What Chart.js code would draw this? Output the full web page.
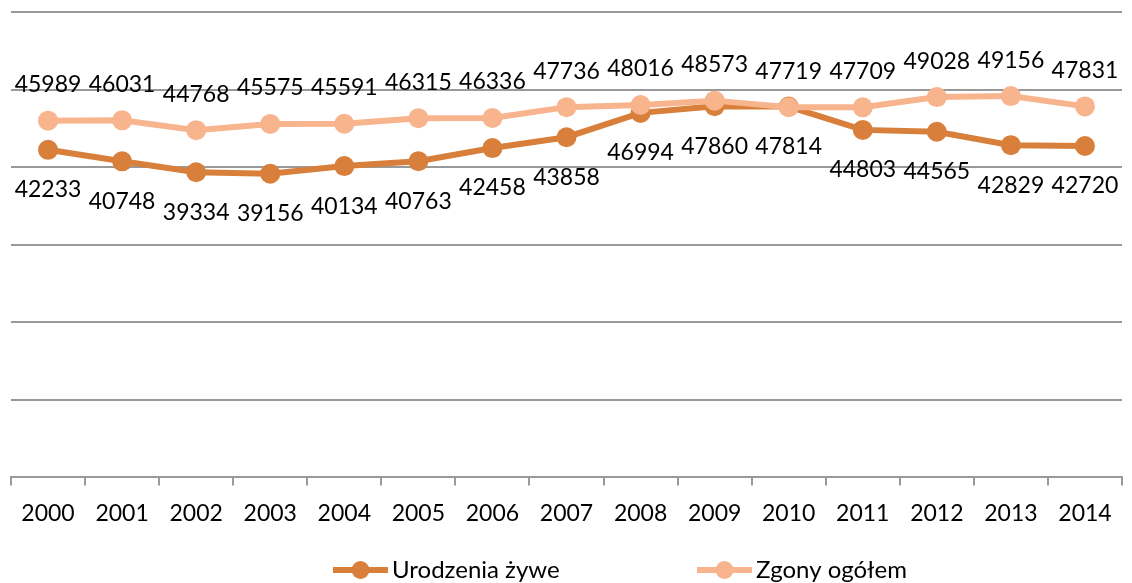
<!DOCTYPE html>
<html>
<head>
<meta charset="utf-8">
<script src="https://cdn.jsdelivr.net/npm/chart.js@4.4.1/dist/chart.umd.min.js"></script>
<style>
  html, body { margin: 0; padding: 0; background: #ffffff; }
  #c { display: block; }
</style>
</head>
<body>
<canvas id="c" width="1132" height="583"></canvas>
<script>
const categories = ['2000','2001','2002','2003','2004','2005','2006','2007','2008','2009','2010','2011','2012','2013','2014'];
const urodzenia = [42233, 40748, 39334, 39156, 40134, 40763, 42458, 43858, 46994, 47860, 47814, 44803, 44565, 42829, 42720];
const zgony = [45989, 46031, 44768, 45575, 45591, 46315, 46336, 47736, 48016, 48573, 47719, 47709, 49028, 49156, 47831];
const seriesNames = ['Urodzenia żywe', 'Zgony ogółem'];
const yMin = 0, yMax = 60000, yStep = 10000;

const DARK = '#D8803B';
const LIGHT = '#F7B48D';
const GRID = '#999999';
const FONT = 'Lato';

const pointLabelsPlugin = {
  id: 'pointLabels',
  afterDatasetsDraw(chart, args, opts) {
    const ctx = chart.ctx;
    ctx.save();
    ctx.font = opts.size + 'px ' + FONT;
    ctx.fillStyle = '#000000';
    ctx.textAlign = 'center';
    ctx.textBaseline = 'middle';
    chart.data.datasets.forEach((ds, di) => {
      const meta = chart.getDatasetMeta(di);
      const off = opts.offsets[di];
      meta.data.forEach((pt, i) => {
        ctx.fillText(String(ds.data[i]), pt.x, pt.y + off);
      });
    });
    ctx.restore();
  }
};

const customLegendPlugin = {
  id: 'customLegend',
  afterDraw(chart, args, opts) {
    const ctx = chart.ctx;
    ctx.save();
    ctx.font = opts.size + 'px ' + FONT;
    ctx.textBaseline = 'middle';
    ctx.textAlign = 'left';
    chart.data.datasets.forEach((ds, di) => {
      const x = opts.starts[di];
      const y = opts.y;
      ctx.strokeStyle = ds.borderColor;
      ctx.lineWidth = 6;
      ctx.lineCap = 'butt';
      ctx.beginPath();
      ctx.moveTo(x, y);
      ctx.lineTo(x + opts.lineLen, y);
      ctx.stroke();
      ctx.fillStyle = ds.pointBackgroundColor;
      ctx.beginPath();
      ctx.arc(x + opts.lineLen / 2, y, 9, 0, Math.PI * 2);
      ctx.fill();
      ctx.fillStyle = '#000000';
      ctx.fillText(ds.label, x + opts.lineLen + 4, y);
    });
    ctx.restore();
  }
};

function draw() {
  new Chart(document.getElementById('c'), {
    type: 'line',
    data: {
      labels: categories,
      datasets: [
        {
          label: seriesNames[0],
          data: urodzenia,
          borderColor: DARK,
          backgroundColor: DARK,
          pointBackgroundColor: DARK,
          pointBorderColor: DARK,
          borderWidth: 6,
          pointRadius: 10,
          pointBorderWidth: 0,
          pointHoverRadius: 10,
          tension: 0,
          fill: false,
          order: 1
        },
        {
          label: seriesNames[1],
          data: zgony,
          borderColor: LIGHT,
          backgroundColor: LIGHT,
          pointBackgroundColor: LIGHT,
          pointBorderColor: LIGHT,
          borderWidth: 6,
          pointRadius: 10,
          pointBorderWidth: 0,
          pointHoverRadius: 10,
          tension: 0,
          fill: false,
          order: 0
        }
      ]
    },
    options: {
      responsive: false,
      animation: false,
      devicePixelRatio: 1,
      layout: { padding: { left: 11, right: 1, top: 12, bottom: 42 } },
      scales: {
        x: {
          type: 'category',
          offset: true,
          grid: {
            offset: true,
            drawOnChartArea: false,
            drawTicks: true,
            tickLength: 8,
            color: GRID,
            lineWidth: 2
          },
          border: { display: true, color: GRID, width: 2 },
          ticks: {
            color: '#000000',
            font: { family: FONT, size: 23 },
            padding: 14,
            maxRotation: 0,
            autoSkip: false
          }
        },
        y: {
          min: yMin,
          max: yMax,
          ticks: { stepSize: yStep, display: false },
          grid: { color: GRID, lineWidth: 2, drawTicks: false },
          border: { display: false }
        }
      },
      plugins: {
        legend: { display: false },
        tooltip: { enabled: false },
        pointLabels: { size: 23, offsets: [40, -36] },
        customLegend: { size: 24, y: 570, starts: [333, 697], lineLen: 55 }
      }
    },
    plugins: [pointLabelsPlugin, customLegendPlugin]
  });
}

if (document.fonts && document.fonts.load) {
  document.fonts.load('23px ' + FONT).then(draw, draw);
} else {
  draw();
}
</script>
</body>
</html>
